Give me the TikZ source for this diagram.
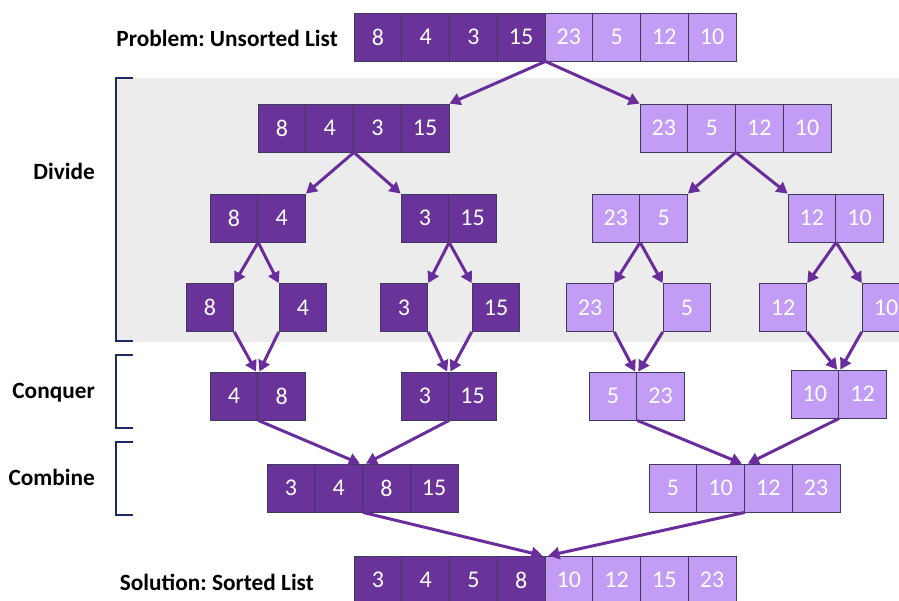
\documentclass[tikz,border=0pt]{standalone}
\usepackage{fontspec}
\setmainfont{Carlito}
\usetikzlibrary{arrows.meta}
\definecolor{darkcell}{HTML}{6A3399}
\definecolor{lightcell}{HTML}{C39CF6}
\definecolor{cellline}{HTML}{3E3A5C}
\definecolor{arrowcol}{HTML}{6A2D9C}
\definecolor{band}{HTML}{ECECEC}
\definecolor{bracketcol}{HTML}{1C2A5E}
\frenchspacing
\tikzset{
  cell/.style={draw=cellline, line width=0.8pt, minimum width=47.75pt, minimum height=48pt,
    inner sep=0pt, text=white, font=\fontsize{24}{26}\selectfont},
  darkc/.style={cell, fill=darkcell},
  lightc/.style={cell, fill=lightcell},
  flow/.style={draw=arrowcol, line width=3pt, -{Triangle[length=11pt,width=12pt]}},
  phase/.style={font=\bfseries\fontsize{23.3}{26}\selectfont, anchor=east, inner sep=0pt},
  bracket/.style={draw=bracketcol, line width=2.5pt}
}
% draw a row of cells: name prefix, left x, centre y, style, values
\newcommand{\cellrow}[5]{%
  \foreach \v [count=\i] in {#5} {
    \node[#4] (#1\i) at ({#2+(\i-0.5)*47.75}, #3) {\v};
  }%
}
\begin{document}
\begin{tikzpicture}[x=1pt, y=-1pt]
\useasboundingbox (0,0) rectangle (899,600);
% shaded divide band
\fill[band] (116,78) rectangle (899,342);

% phase brackets
\draw[bracket] (133,78) -- (116,78) -- (116,341) -- (133,341);
\draw[bracket] (133,355) -- (116,355) -- (116,428) -- (133,428);
\draw[bracket] (133,442) -- (116,442) -- (116,515) -- (133,515);

% labels
\node[phase] (lprob) at (338,38) {Problem: Unsorted List};
\node[phase] (ldiv) at (95,171) {Divide};
\node[phase] (lcon) at (95,393) {Conquer};
\node[phase] (lcom) at (95,477) {Combine};
\node[phase] (lsol) at (314,582) {Solution: Sorted List};

% unsorted list
\cellrow{p}{354}{37}{darkc}{8,4,3,15}
\foreach \v [count=\i from 5] in {23,5,12,10} {
  \node[lightc] (p\i) at ({354+(\i-0.5)*47.75}, 37) {\v};
}

% divide, first split
\cellrow{d}{258}{128}{darkc}{8,4,3,15}
\cellrow{e}{640}{128}{lightc}{23,5,12,10}

% divide, second split
\cellrow{f}{210}{218}{darkc}{8,4}
\cellrow{g}{401}{218}{darkc}{3,15}
\cellrow{h}{592}{218}{lightc}{23,5}
\cellrow{k}{788}{218}{lightc}{12,10}

% single elements
\node[darkc] (m1) at (210,307.5) {8};
\node[darkc] (m2) at (303,307.5) {4};
\node[darkc] (m3) at (404,307.5) {3};
\node[darkc] (m4) at (496,307.5) {15};
\node[lightc] (m5) at (590,307.5) {23};
\node[lightc] (m6) at (687,307.5) {5};
\node[lightc] (m7) at (783,307.5) {12};
\node[lightc] (m8) at (886,307.5) {10};

% conquer
\cellrow{c}{210}{396}{darkc}{4,8}
\node[darkc] (c3) at (424.875,396) {3};
\node[darkc] (c4) at (472.625,396) {15};
\node[lightc] (c5) at (612.875,396) {5};
\node[lightc] (c6) at (660.625,396) {23};
\node[lightc] (c7) at (814.875,394) {10};
\node[lightc] (c8) at (862.625,394) {12};

% combine
\cellrow{b}{267}{488}{darkc}{3,4,8,15}
\cellrow{q}{649}{488}{lightc}{5,10,12,23}

% sorted list
\cellrow{s}{354}{580}{darkc}{3,4,5,8}
\foreach \v [count=\i from 5] in {10,12,15,23} {
  \node[lightc] (s\i) at ({354+(\i-0.5)*47.75}, 580) {\v};
}

% divide arrows
\draw[flow] (p4.south east) -- (d4.north east);
\draw[flow] (p4.south east) -- (e1.north west);
\draw[flow] (d2.south east) -- (f2.north east);
\draw[flow] (d2.south east) -- (g1.north west);
\draw[flow] (e2.south east) -- (h2.north east);
\draw[flow] (e2.south east) -- (k1.north west);
\draw[flow] (f1.south east) -- (m1.north east);
\draw[flow] (f1.south east) -- (m2.north west);
\draw[flow] (g1.south east) -- (m3.north east);
\draw[flow] (g1.south east) -- (m4.north west);
\draw[flow] (h1.south east) -- (m5.north east);
\draw[flow] (h1.south east) -- (m6.north west);
\draw[flow] (k1.south east) -- (m7.north east);
\draw[flow] (k1.south east) -- (m8.north west);

% conquer arrows
\draw[flow] (m1.south east) -- ([xshift=-2pt]c1.north east);
\draw[flow] (m2.south west) -- ([xshift=2pt]c2.north west);
\draw[flow] (m3.south east) -- ([xshift=-2pt]c3.north east);
\draw[flow] (m4.south west) -- ([xshift=2pt]c4.north west);
\draw[flow] (m5.south east) -- ([xshift=-2pt]c5.north east);
\draw[flow] (m6.south west) -- ([xshift=2pt]c6.north west);
\draw[flow] (m7.south east) -- ([xshift=-2pt]c7.north east);
\draw[flow] (m8.south west) -- ([xshift=2pt]c8.north west);

% combine arrows
\draw[flow] (c1.south east) -- ([xshift=-3pt]b2.north east);
\draw[flow] (c3.south east) -- ([xshift=3pt]b2.north east);
\draw[flow] (c5.south east) -- ([xshift=-3pt]q2.north east);
\draw[flow] (c7.south east) -- ([xshift=3pt]q2.north east);

% final merge
\draw[flow] (b2.south east) -- ([xshift=-3pt]s4.north east);
\draw[flow] (q2.south east) -- ([xshift=3pt]s4.north east);
\end{tikzpicture}
\end{document}
